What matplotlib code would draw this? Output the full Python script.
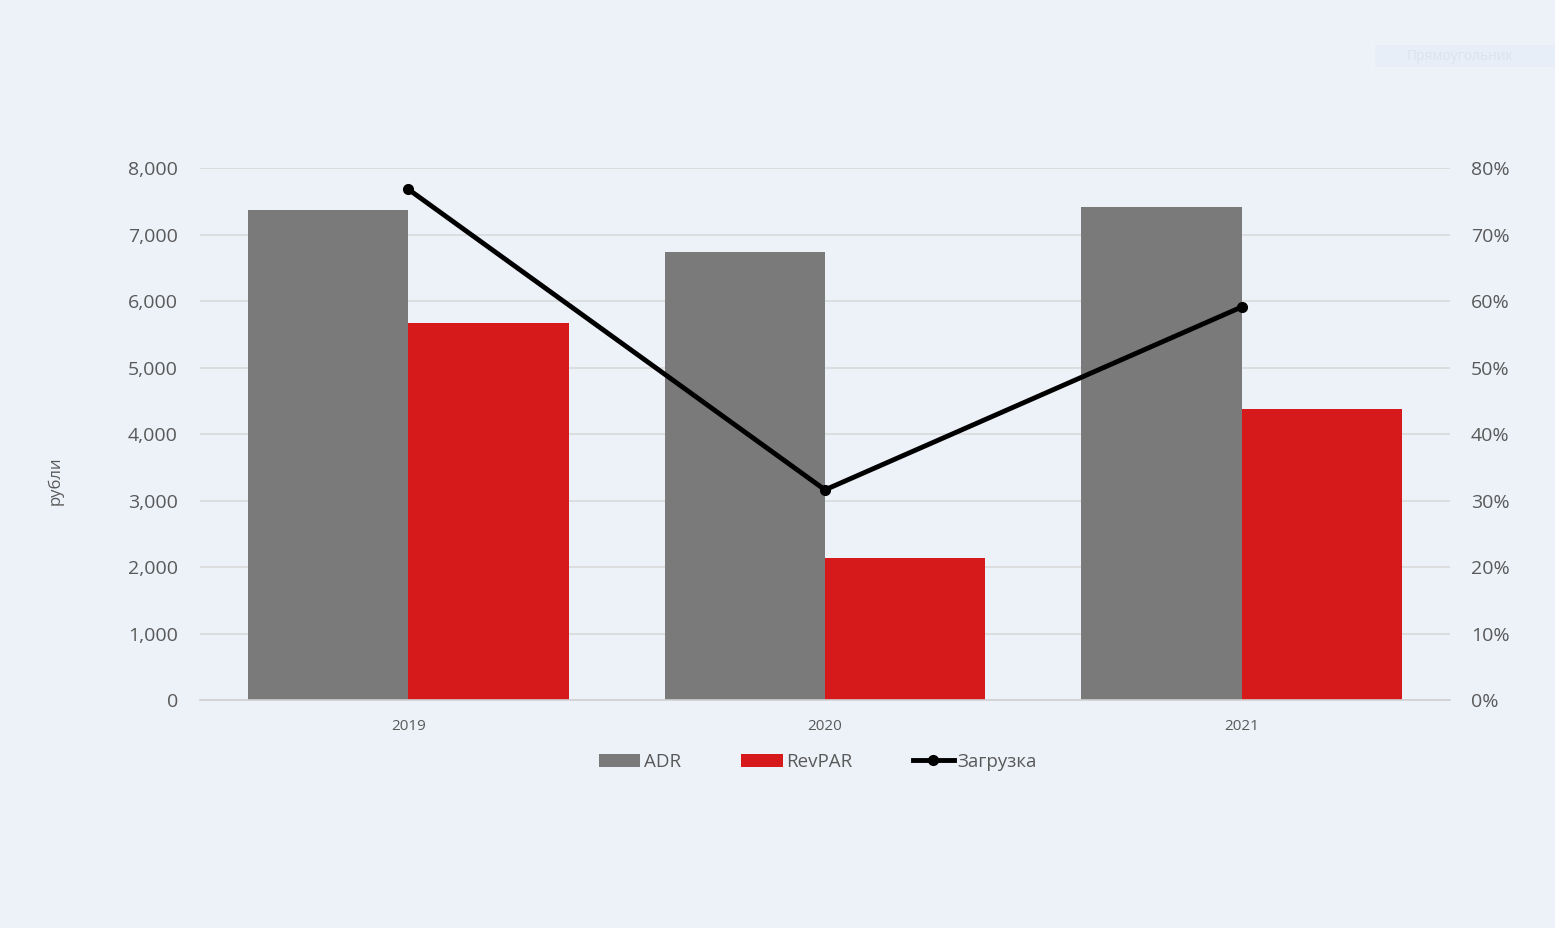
import numpy as np
import matplotlib.pyplot as plt
from matplotlib.patches import Rectangle
from matplotlib.ticker import FuncFormatter

years = ["2019", "2020", "2021"]
adr = [7370, 6740, 7410]
revpar = [5670, 2140, 4380]
load = [76.8, 31.6, 59.1]

bg = "#edf2f9"
grey = "#7a7a7a"
red = "#d6191b"
txt = "#595959"

plt.rcParams['font.family'] = ['Open Sans', 'DejaVu Sans']

fig = plt.figure(figsize=(15.55, 9.38), dpi=100)
fig.patch.set_facecolor(bg)
# белая полоса снизу
fig.add_artist(Rectangle((0, 0), 1, 10 / 938, transform=fig.transFigure, facecolor="white", edgecolor="none"))

ax = fig.add_axes([200 / 1555, 1 - 700 / 938, 1250 / 1555, 532 / 938])
ax.set_facecolor(bg)
x = np.arange(len(years))
w = 0.385
b1 = ax.bar(x - w / 2, adr, w, color=grey, label="ADR", zorder=2)
b2 = ax.bar(x + w / 2, revpar, w, color=red, label="RevPAR", zorder=2)
ax.set_xlim(-0.5, 2.5)
ax.set_ylim(0, 8000)
ax.set_yticks(np.arange(0, 8001, 1000))
ax.yaxis.set_major_formatter(FuncFormatter(lambda v, p: f"{int(v):,}"))
ax.grid(axis="y", color="#d9d9d9", linewidth=1.2, zorder=0)
for s in ["top", "left", "right"]:
    ax.spines[s].set_visible(False)
ax.spines["bottom"].set_color("#d0d0d0")
ax.spines["bottom"].set_linewidth(1.2)
ax.tick_params(axis="y", length=0, labelsize=14, labelcolor=txt, pad=16)
ax.tick_params(axis="x", length=0, labelsize=11, labelcolor=txt, pad=14)
ax.set_xticks(x)
ax.set_xticklabels(years)
fig.text(55 / 1555, 1 - 481 / 938, "рубли", fontsize=12, color=txt, rotation=90, ha="center", va="center")

ax2 = ax.twinx()
ln, = ax2.plot(x, load, color="black", linewidth=3.5, marker="o", markersize=7, label="Загрузка", zorder=3)
ax2.set_ylim(0, 80)
ax2.set_yticks(np.arange(0, 81, 10))
ax2.yaxis.set_major_formatter(FuncFormatter(lambda v, p: f"{int(v)}%"))
ax2.tick_params(axis="y", length=0, labelsize=14, labelcolor=txt, pad=15)
for s in ax2.spines.values():
    s.set_visible(False)

leg = fig.legend([b1, b2, ln], ["ADR", "RevPAR", "Загрузка"], loc="center",
                 bbox_to_anchor=(818 / 1555, 1 - 762 / 938), ncol=3, frameon=False,
                 fontsize=13.5, handlelength=2.2, handletextpad=0.2, columnspacing=3.2)
for t in leg.get_texts():
    t.set_color(txt)

# бледная кнопка справа сверху
fig.add_artist(Rectangle((1375 / 1555, 1 - 67 / 938), 180 / 1555, 22 / 938,
                         transform=fig.transFigure, facecolor="#e8eef8", edgecolor="none"))
fig.text(1407 / 1555, 1 - 56 / 938, "Прямоугольник", fontsize=10, color="#dde3ee", va="center")

fig.savefig("out.png", dpi=100, facecolor=bg)
